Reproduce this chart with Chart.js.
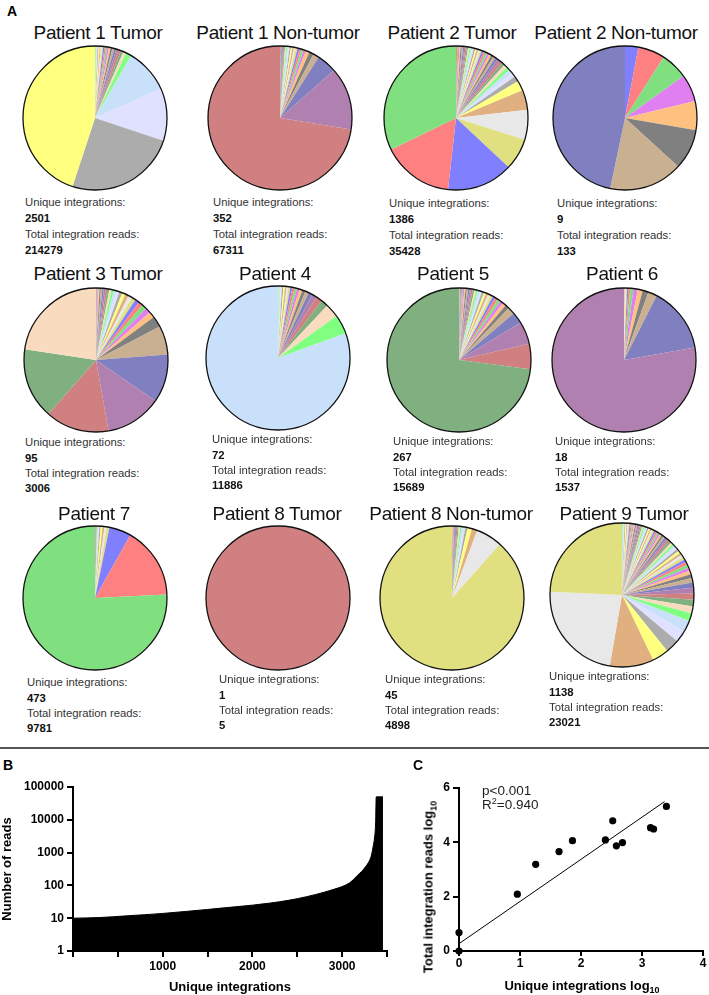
<!DOCTYPE html>
<html>
<head>
<meta charset="utf-8">
<script src="https://cdn.jsdelivr.net/npm/chart.js@4.4.0/dist/chart.umd.min.js"></script>
<style>
body { margin: 0; width: 709px; height: 995px; position: relative; background: #fff; overflow: hidden;
       font-family: "Liberation Sans", Arial, sans-serif; }
.abs { position: absolute; white-space: nowrap; }
.title { font-size: 19px; letter-spacing: -0.35px; line-height: 1; transform: translate(-50%, -50%); color: #111; }
.stats { font-size: 11.3px; color: #333; }
.stats b { color: #111; }
.panel { font-weight: bold; font-size: 14px; line-height: 1; transform: translate(-50%, -50%); }
.axisTitle { font-weight: bold; font-size: 13px; line-height: 1; color: #000; }
canvas { position: absolute; }
#sep { position: absolute; left: 0; top: 747px; width: 709px; height: 2px; background: #555; }
</style>
</head>
<body>
<div id="sep"></div>
<script>
// ---- data ----
const pieTitles = ['Patient 1 Tumor', 'Patient 1 Non-tumor', 'Patient 2 Tumor', 'Patient 2 Non-tumor',
                   'Patient 3 Tumor', 'Patient 4', 'Patient 5', 'Patient 6',
                   'Patient 7', 'Patient 8 Tumor', 'Patient 8 Non-tumor', 'Patient 9 Tumor'];
const uniqueIntegrations = [2501, 352, 1386, 9, 95, 72, 267, 18, 473, 1, 45, 1138];
const totalReads = [214279, 67311, 35428, 133, 3006, 11886, 15689, 1537, 9781, 5, 4898, 23021];

// clone shares (%), largest first
const p1Tumor = [45, 25, 11.8, 10, 1.2, 0.7, 0.6, 0.55, 0.5, 0.45, 0.42, 0.4, 0.38, 0.36, 0.34, 0.32, 0.3, 0.28, 0.26, 0.25, 0.24, 0.22, 0.2, 0.2, 0.18];
const p1NonTumor = [71.6, 13.9, 4.4, 1.3, 1.0, 0.8, 0.55, 0.5, 0.45, 0.42, 0.4, 0.38, 0.35, 0.32, 0.3, 0.28, 0.26, 0.25, 0.24, 0.22, 0.2, 0.2, 0.18, 0.16, 0.15];
const p2Tumor = [32, 15.9, 14.7, 7, 6.7, 4.4, 2.25, 1.2, 1.0, 0.9, 0.8, 0.75, 0.7, 0.65, 0.6, 0.58, 0.55, 0.52, 0.5, 0.48, 0.46, 0.44, 0.42, 0.4, 0.38, 0.36, 0.35, 0.34, 0.33, 0.32, 0.31, 0.3, 0.3, 0.29, 0.28, 0.28, 0.27, 0.27, 0.26, 0.26, 0.25, 0.25];
const p2NonTumor = [46.7, 16.5, 9.1, 6.5, 6.1, 6.1, 6.0, 3.0];
const p3Tumor = [22.8, 16, 14.4, 12.7, 10.9, 6.5, 2.5, 1.4, 1.2, 1.1, 1.0, 0.95, 0.9, 0.85, 0.8, 0.75, 0.7, 0.65, 0.6, 0.55, 0.5, 0.45, 0.4, 0.38, 0.35, 0.32, 0.3, 0.2, 0.2, 0.15, 0.15, 0.1];
const p4 = [80.7, 4.3, 3.1, 1.6, 1.4, 1.1, 0.9, 0.8, 0.7, 0.65, 0.6, 0.55, 0.5, 0.45, 0.42, 0.4, 0.38, 0.35, 0.32, 0.3, 0.25, 0.2, 0.15];
const p5 = [73.2, 5.7, 5.0, 2.6, 1.6, 0.9, 0.8, 0.75, 0.7, 0.65, 0.6, 0.58, 0.55, 0.52, 0.5, 0.48, 0.46, 0.44, 0.42, 0.4, 0.38, 0.36, 0.34, 0.32, 0.3, 0.29, 0.28, 0.27, 0.26, 0.25, 0.22, 0.2];
const p6 = [77.8, 14.7, 2.0, 1.3, 1.1, 1.0, 0.7, 0.4, 0.3, 0.25, 0.2, 0.15, 0.1];
const p7 = [75.7, 16.1, 4.9, 0.6, 0.5, 0.45, 0.4, 0.3, 0.2, 0.15, 0.1, 0.1, 0.1, 0.1, 0.08, 0.08, 0.06];
const p8Tumor = [100];
const p8NonTumor = [88.5, 5.9, 1.2, 1.0, 0.5, 0.45, 0.4, 0.35, 0.3, 0.28, 0.25, 0.22, 0.2, 0.18, 0.15, 0.12, 0.1];
const p9Tumor = [24.6, 23.3, 10, 3.75, 3.1, 2.7, 2.6, 1.8, 1.6, 1.5, 1.4, 1.3, 1.2, 1.0, 0.9, 0.8, 0.75, 0.7, 0.68, 0.65, 0.62, 0.6, 0.58, 0.56, 0.54, 0.52, 0.5, 0.49, 0.48, 0.47, 0.46, 0.45, 0.44, 0.43, 0.42, 0.41, 0.4, 0.39, 0.38, 0.37, 0.36, 0.35, 0.34, 0.33, 0.32, 0.31, 0.3, 0.3, 0.29, 0.29, 0.28, 0.28, 0.27, 0.27, 0.26, 0.26, 0.25, 0.25, 0.24, 0.24, 0.23, 0.23, 0.22, 0.22, 0.21, 0.21, 0.2, 0.2];
const pieShares = [p1Tumor, p1NonTumor, p2Tumor, p2NonTumor, p3Tumor, p4, p5, p6, p7, p8Tumor, p8NonTumor, p9Tumor];

// panel B: reads per integration, sorted
const readsX = [1, 300, 600, 800, 1000, 1250, 1500, 1750, 2000, 2200, 2400, 2600, 2800, 2900, 3000, 3080, 3125, 3165, 3200, 3230, 3260, 3290, 3310, 3327, 3345, 3362, 3373, 3380, 3455];
const readsY = [10, 10.5, 11.8, 12.8, 14, 16, 18.5, 21.5, 25, 29, 35, 45, 62, 75, 92, 118, 150, 195, 240, 290, 370, 480, 620, 850, 1500, 3000, 8000, 50000, 50000];
const readsTicksY = [1, 10, 100, 1000, 10000, 100000];
const readsTicksX = [0, 500, 1000, 1500, 2000, 2500, 3000, 3500];
const readsLabelsX = [1000, 2000, 3000];

// panel C: log10 values
const uniqueLog = [0, 0, 0.956, 1.257, 1.64, 1.86, 2.40, 2.52, 2.58, 2.68, 3.14, 3.19, 3.40];
const readsLog = [0, 0.68, 2.09, 3.19, 3.66, 4.06, 4.09, 4.79, 3.87, 3.99, 4.54, 4.49, 5.32];
const fitX = [0, 3.37];
const fitY = [0.27, 5.5];
const logTicksX = [0, 1, 2, 3, 4];
const logTicksY = [0, 2, 4, 6];

// ---- styling / layout ----
const palette = ['#80e080', '#ff8080', '#8080ff', '#e0e080', '#e8e8e8', '#e0b080', '#ffff80', '#acacac',
                 '#e0e0ff', '#c8e0fa', '#80ff80', '#f9dcc0', '#80b080', '#d08080', '#b080b0', '#8080c0',
                 '#c8b090', '#808080', '#ffc080', '#e080f0'];
const firstColour = [6, 13, 0, 15, 11, 9, 12, 14, 0, 13, 3, 3];
const pieLayout = [
    {cx: 95, cy: 118, tx: 98, ty: 32, sx: 25, sy: 202, lh: 16},
    {cx: 280, cy: 118, tx: 278, ty: 32, sx: 213, sy: 202, lh: 16},
    {cx: 456, cy: 118, tx: 452, ty: 32, sx: 389, sy: 203, lh: 16},
    {cx: 625, cy: 118, tx: 616, ty: 32, sx: 557, sy: 203, lh: 16},
    {cx: 96, cy: 360, tx: 98, ty: 273, sx: 25, sy: 443, lh: 15.3},
    {cx: 278, cy: 358, tx: 275, ty: 273, sx: 212, sy: 440, lh: 15.3},
    {cx: 459, cy: 360, tx: 453, ty: 273, sx: 393, sy: 442, lh: 15.3},
    {cx: 624, cy: 360, tx: 622, ty: 273, sx: 555, sy: 442, lh: 15.3},
    {cx: 95, cy: 598, tx: 94, ty: 513, sx: 27, sy: 683, lh: 15.3},
    {cx: 278, cy: 598, tx: 277, ty: 513, sx: 219, sy: 680, lh: 15.3},
    {cx: 452, cy: 598, tx: 451, ty: 513, sx: 385, sy: 680, lh: 15.3},
    {cx: 622, cy: 595, tx: 624, ty: 513, sx: 549, sy: 677, lh: 15.3}
];

Chart.defaults.font.family = '"Liberation Sans", Arial, sans-serif';
Chart.defaults.color = '#000';

function addDiv(cls, html, left, top) {
    const d = document.createElement('div');
    d.className = 'abs ' + cls;
    d.innerHTML = html;
    d.style.left = left + 'px';
    d.style.top = top + 'px';
    document.body.appendChild(d);
    return d;
}

function addCanvas(left, top, w, h) {
    const c = document.createElement('canvas');
    c.width = w; c.height = h;
    c.style.left = left + 'px';
    c.style.top = top + 'px';
    document.body.appendChild(c);
    return c;
}

const outline = {
    id: 'outline',
    afterDatasetsDraw(chart) {
        const arc = chart.getDatasetMeta(0).data[0];
        const ctx = chart.ctx;
        ctx.save();
        ctx.beginPath();
        ctx.arc(arc.x, arc.y, arc.outerRadius, 0, Math.PI * 2);
        ctx.lineWidth = 1.3;
        ctx.strokeStyle = '#111';
        ctx.stroke();
        ctx.restore();
    }
};

function createPie(i) {
    const pos = pieLayout[i];
    const shares = pieShares[i];
    const colours = shares.map((v, k) => palette[(firstColour[i] + k) % palette.length]).reverse();
    const ordered = shares.slice().reverse();
    const canvas = addCanvas(pos.cx - 75, pos.cy - 75, 150, 150);
    new Chart(canvas, {
        type: 'pie',
        data: {
            labels: ordered.map((v, k) => 'Integration ' + (k + 1)),
            datasets: [{ data: ordered, backgroundColor: colours, borderWidth: 0 }]
        },
        options: {
            responsive: false, animation: false,
            layout: { padding: 3 },
            plugins: { legend: { display: false }, tooltip: { enabled: false } }
        },
        plugins: [outline]
    });
    addDiv('title', pieTitles[i], pos.tx, pos.ty);
    const s = addDiv('stats',
        'Unique integrations:<br><b>' + uniqueIntegrations[i] + '</b><br>Total integration reads:<br><b>' + totalReads[i] + '</b>',
        pos.sx, pos.sy - pos.lh / 2);
    s.style.lineHeight = pos.lh + 'px';
}

for (let i = 0; i < pieTitles.length; i++) createPie(i);

addDiv('panel', 'A', 12, 11);
addDiv('panel', 'B', 8, 765);
addDiv('panel', 'C', 418, 765);

const tickFont = { size: 12, weight: 'bold' };
const titleFont = { size: 13, weight: 'bold' };
const axisGrid = { drawOnChartArea: false, tickLength: 6, color: '#000', lineWidth: 2 };
const axisBorder = { color: '#000', width: 2 };

function createReadsChart() {
    const canvas = addCanvas(0, 756, 400, 239);
    new Chart(canvas, {
        type: 'line',
        data: {
            datasets: [{
                data: readsX.map((x, k) => ({ x: x, y: readsY[k] })),
                borderColor: '#000', backgroundColor: '#000', borderWidth: 1,
                fill: 'start', pointRadius: 0, cubicInterpolationMode: 'monotone'
            }]
        },
        options: {
            responsive: false, animation: false,
            layout: { padding: { top: 31, right: 13, left: 0, bottom: 0 } },
            plugins: { legend: { display: false }, tooltip: { enabled: false } },
            scales: {
                x: {
                    type: 'linear', min: 0, max: 3500,
                    afterBuildTicks: s => { s.ticks = readsTicksX.map(v => ({ value: v })); },
                    afterFit: s => { s.height = 44; },
                    ticks: { autoSkip: false, maxRotation: 0, padding: 2, font: tickFont, color: '#000',
                             callback: v => readsLabelsX.includes(v) ? v : '' },
                    grid: axisGrid, border: axisBorder,
                    title: { display: true, text: 'Unique integrations', font: titleFont, color: '#000', padding: { top: 3, bottom: 0 } }
                },
                y: {
                    type: 'logarithmic', min: 1, max: 100000,
                    afterBuildTicks: s => { s.ticks = readsTicksY.map(v => ({ value: v })); },
                    afterFit: s => { s.width = 73; },
                    ticks: { padding: 3, font: tickFont, color: '#000', callback: v => String(v) },
                    grid: axisGrid, border: axisBorder,
                    title: { display: true, text: 'Number of reads', font: titleFont, color: '#000', padding: { top: 0, bottom: 2 } }
                }
            }
        }
    });
}

function createLogChart() {
    const canvas = addCanvas(400, 756, 309, 239);
    new Chart(canvas, {
        type: 'scatter',
        data: {
            datasets: [
                {
                    type: 'line',
                    data: fitX.map((x, k) => ({ x: x, y: fitY[k] })),
                    borderColor: '#000', borderWidth: 1, pointRadius: 0, fill: false
                },
                {
                    data: uniqueLog.map((x, k) => ({ x: x, y: readsLog[k] })),
                    backgroundColor: '#000', borderColor: '#000', pointRadius: 3.6, borderWidth: 0, clip: false
                }
            ]
        },
        options: {
            responsive: false, animation: false,
            layout: { padding: { top: 32, right: 6, left: 0, bottom: 0 } },
            plugins: { legend: { display: false }, tooltip: { enabled: false } },
            scales: {
                x: {
                    type: 'linear', min: 0, max: 4,
                    afterBuildTicks: s => { s.ticks = logTicksX.map(v => ({ value: v })); },
                    afterFit: s => { s.height = 44; },
                    ticks: { padding: 0, font: tickFont, color: '#000', maxRotation: 0 },
                    grid: { drawOnChartArea: false, tickLength: 5, color: '#000', lineWidth: 2 },
                    border: axisBorder
                },
                y: {
                    type: 'linear', min: 0, max: 6,
                    afterBuildTicks: s => { s.ticks = logTicksY.map(v => ({ value: v })); },
                    afterFit: s => { s.width = 59; },
                    ticks: { padding: 3, font: tickFont, color: '#000' },
                    grid: axisGrid, border: axisBorder
                }
            }
        }
    });
}

createReadsChart();
createLogChart();

addDiv('', 'p&lt;0.001<br>R<sup style="font-size:9px;line-height:0">2</sup>=0.940', 482, 784).style.cssText +=
    ';font-size:13.5px;line-height:14px;color:#222';
const cx = addDiv('axisTitle', 'Unique integrations log<sub style="font-size:9px;line-height:0">10</sub>', 582, 985);
cx.style.transform = 'translate(-50%, -50%)';
const cy = addDiv('axisTitle', 'Total integration reads log<sub style="font-size:9px;line-height:0">10</sub>', 428, 887);
cy.style.transform = 'translate(-50%, -50%) rotate(-90deg)';
</script>
</body>
</html>
